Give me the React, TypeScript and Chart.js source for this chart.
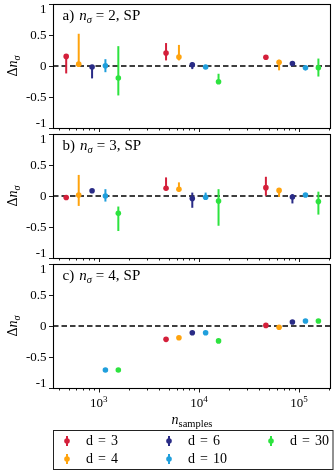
import React, { useEffect, useRef } from 'react';
import { Chart, registerables } from 'chart.js';
Chart.register(...registerables);

const SERIF = '"Liberation Serif", "Times New Roman", serif';

// ---- series metadata ----
const dLabels = ['d = 3', 'd = 4', 'd = 6', 'd = 10', 'd = 30'];
const dValues = ['3', '4', '6', '10', '30'];
const dColors = ['#d41f3a', '#ffa30d', '#292b86', '#209fdc', '#2de33f'];

// ---- x positions (n_samples) per series ----
const nD3 = [474, 4700, 46600];
const nD4 = [632, 6320, 63100];
const nD6 = [859, 8590, 85700];
const nD10 = [1167, 11670, 115700];
const nD30 = [1570, 15700, 155700];

// ---- panel a: n_sigma = 2 ----
const a3 = [0.155, 0.21, 0.14];
const a3Lo = [-0.12, 0.09, 0.13];
const a3Hi = [0.17, 0.37, 0.15];
const a4 = [0.03, 0.145, 0.06];
const a4Lo = [0.02, 0.09, -0.07];
const a4Hi = [0.52, 0.34, 0.1];
const a6 = [-0.015, 0.02, 0.04];
const a6Lo = [-0.2, -0.05, 0.02];
const a6Hi = [0.0, 0.06, 0.05];
const a10 = [0.005, -0.015, -0.03];
const a10Lo = [-0.1, -0.03, -0.04];
const a10Hi = [0.11, 0.0, -0.02];
const a30 = [-0.195, -0.255, -0.03];
const a30Lo = [-0.475, -0.29, -0.17];
const a30Hi = [0.32, -0.125, 0.12];

// ---- panel b: n_sigma = 3 ----
const b3 = [-0.025, 0.125, 0.135];
const b3Lo = [-0.03, 0.09, 0.005];
const b3Hi = [-0.02, 0.3, 0.31];
const b4 = [0.015, 0.11, 0.09];
const b4Lo = [-0.16, 0.07, -0.015];
const b4Hi = [0.34, 0.22, 0.12];
const b6 = [0.085, -0.04, -0.015];
const b6Lo = [0.08, -0.19, -0.12];
const b6Hi = [0.09, 0.055, 0.03];
const b10 = [0.0, -0.02, 0.015];
const b10Lo = [-0.09, -0.05, 0.01];
const b10Hi = [0.11, 0.055, 0.02];
const b30 = [-0.28, -0.08, -0.09];
const b30Lo = [-0.565, -0.48, -0.3];
const b30Hi = [-0.17, 0.11, 0.07];

// ---- panel c: n_sigma = 4 (no error bars) ----
const c3 = [null, -0.215, 0.01];
const c4 = [null, -0.19, -0.02];
const c6 = [null, -0.11, 0.065];
const c10 = [-0.71, -0.11, 0.08];
const c30 = [-0.71, -0.24, 0.08];

// ---- axes ----
const xMin = 350;
const xMax = 208000;
const xDecades = [100, 1000, 10000, 100000];
const xMultipliers = [1, 2, 3, 4, 5, 6, 7, 8, 9];
const xDecadeExponents = ['2', '3', '4', '5'];
const yTicks = [-1, -0.5, 0, 0.5, 1];
const yTickLabels = ['-1', '-0.5', '0', '0.5', '1'];

const panelLetters = ['a)', 'b)', 'c)'];
const panelNSigma = ['2', '3', '4'];

const xsByD = [nD3, nD4, nD6, nD10, nD30];
const panelVals = [
  [a3, a4, a6, a10, a30],
  [b3, b4, b6, b10, b30],
  [c3, c4, c6, c10, c30],
];
const panelLo = [
  [a3Lo, a4Lo, a6Lo, a10Lo, a30Lo],
  [b3Lo, b4Lo, b6Lo, b10Lo, b30Lo],
  null,
];
const panelHi = [
  [a3Hi, a4Hi, a6Hi, a10Hi, a30Hi],
  [b3Hi, b4Hi, b6Hi, b10Hi, b30Hi],
  null,
];

type Part = { t: string; f: string; dy?: number; gap?: number };

function drawRich(ctx: CanvasRenderingContext2D, x: number, y: number, parts: Part[], align: 'left' | 'center' = 'left') {
  let w = 0;
  parts.forEach((p) => {
    ctx.font = p.f;
    w += ctx.measureText(p.t).width + (p.gap || 0);
  });
  let cx = align === 'center' ? x - w / 2 : x;
  ctx.textAlign = 'left';
  parts.forEach((p) => {
    ctx.font = p.f;
    ctx.fillText(p.t, cx, y + (p.dy || 0));
    cx += ctx.measureText(p.t).width + (p.gap || 0);
  });
}

const xTickValues: number[] = [];
xDecades.forEach((d) => xMultipliers.forEach((m) => {
  const v = d * m;
  if (v >= xMin && v <= xMax) xTickValues.push(v);
}));

function makePanelPlugin(pi: number, isLast: boolean) {
  return {
    id: 'panelDeco' + pi,
    beforeDatasetsDraw(chart: any) {
      const { ctx, chartArea: ca, scales } = chart;
      const x = scales.x;
      const y = scales.y;
      ctx.save();
      const y0 = y.getPixelForValue(0);
      ctx.strokeStyle = '#000';
      ctx.lineWidth = 1.3;
      ctx.setLineDash([5.5, 3]);
      ctx.beginPath();
      ctx.moveTo(ca.left, y0);
      ctx.lineTo(ca.right, y0);
      ctx.stroke();
      ctx.setLineDash([]);
      chart.data.datasets.forEach((ds: any) => {
        ctx.strokeStyle = ds.borderColor;
        ctx.lineWidth = 2;
        ds.data.forEach((p: any) => {
          if (p.lo == null || p.hi == null) return;
          const px = x.getPixelForValue(p.x);
          ctx.beginPath();
          ctx.moveTo(px, y.getPixelForValue(p.lo));
          ctx.lineTo(px, y.getPixelForValue(p.hi));
          ctx.stroke();
        });
      });
      ctx.restore();
    },
    afterDraw(chart: any) {
      const { ctx, chartArea: ca, scales } = chart;
      const x = scales.x;
      const y = scales.y;
      ctx.save();
      ctx.fillStyle = '#000';
      ctx.strokeStyle = '#000';
      ctx.lineWidth = 1.1;
      ctx.strokeRect(ca.left + 0.5, ca.top + 0.5, ca.right - ca.left - 1, ca.bottom - ca.top);
      ctx.lineWidth = 0.9;
      x.ticks.forEach((t: any) => {
        const px = Math.round(x.getPixelForValue(t.value)) + 0.5;
        const major = xDecades.indexOf(t.value) >= 0;
        ctx.beginPath();
        ctx.moveTo(px, ca.bottom);
        ctx.lineTo(px, ca.bottom + (major ? 4.5 : 2.5));
        ctx.stroke();
      });
      ctx.textAlign = 'right';
      ctx.textBaseline = 'middle';
      ctx.font = '13px ' + SERIF;
      yTicks.forEach((v, i) => {
        const py = Math.round(y.getPixelForValue(v)) + 0.5;
        ctx.beginPath();
        ctx.moveTo(ca.left - 4, py);
        ctx.lineTo(ca.left, py);
        ctx.stroke();
        let shift = 0;
        if (v === y.max) shift = 5.5;
        if (v === y.min) shift = -5;
        ctx.fillText(yTickLabels[i], ca.left - 6.5, py + shift);
      });
      ctx.textBaseline = 'alphabetic';
      drawRich(ctx, ca.left + 9.5, ca.top + 15.5, [
        { t: panelLetters[pi], f: '15px ' + SERIF, gap: 5 },
        { t: 'n', f: 'italic 15px ' + SERIF },
        { t: '\u03c3', f: 'italic 10.5px ' + SERIF, dy: 3, gap: 4 },
        { t: '=', f: '15px ' + SERIF, gap: 4 },
        { t: panelNSigma[pi] + ',', f: '15px ' + SERIF, gap: 4 },
        { t: 'SP', f: '15px ' + SERIF },
      ]);
      ctx.save();
      ctx.translate(17, (ca.top + ca.bottom) / 2);
      ctx.rotate(-Math.PI / 2);
      drawRich(ctx, 0, 0, [
        { t: '\u0394', f: '14px ' + SERIF },
        { t: 'n', f: 'italic 14px ' + SERIF },
        { t: '\u03c3', f: 'italic 10px ' + SERIF, dy: 3 },
      ], 'center');
      ctx.restore();

      if (isLast) {
        xDecades.forEach((d, i) => {
          if (d < xMin || d > xMax) return;
          const px = x.getPixelForValue(d);
          drawRich(ctx, px, ca.bottom + 19, [
            { t: '10', f: '13px ' + SERIF },
            { t: xDecadeExponents[i], f: '9px ' + SERIF, dy: -5.5 },
          ], 'center');
        });
        drawRich(ctx, (ca.left + ca.right) / 2, ca.bottom + 35.5, [
          { t: 'n', f: 'italic 14px ' + SERIF },
          { t: 'samples', f: '10.5px ' + SERIF, dy: 3 },
        ], 'center');
        const lx = ca.left + 0.5;
        const ly = ca.bottom + 42.5;
        ctx.lineWidth = 1;
        ctx.strokeStyle = '#222';
        ctx.strokeRect(lx, ly, ca.right - ca.left + 1.5, 39);
        dLabels.forEach((lab, i) => {
          const col = Math.floor(i / 2);
          const row = i % 2;
          const mx = ca.left + 14 + col * 102;
          const my = ly + 10.5 + row * 18;
          ctx.strokeStyle = dColors[i];
          ctx.fillStyle = dColors[i];
          ctx.lineWidth = 2;
          ctx.beginPath();
          ctx.moveTo(mx, my - 5);
          ctx.lineTo(mx, my + 5);
          ctx.stroke();
          ctx.beginPath();
          ctx.arc(mx, my, 2.8, 0, Math.PI * 2);
          ctx.fill();
          ctx.fillStyle = '#000';
          ctx.textBaseline = 'middle';
          drawRich(ctx, mx + 19, my, [
            { t: 'd', f: '14px ' + SERIF, gap: 5 },
            { t: '=', f: '14px ' + SERIF, gap: 5 },
            { t: dValues[i], f: '14px ' + SERIF },
          ]);
        });
      }
      ctx.restore();
    },
  };
}

function makeChart(canvas: HTMLCanvasElement, pi: number, xAxisH: number) {
  const isLast = pi === 2;
  const datasets = dLabels.map((lab, i) => {
    const vals = panelVals[pi][i];
    const lo = panelLo[pi] ? panelLo[pi]![i] : null;
    const hi = panelHi[pi] ? panelHi[pi]![i] : null;
    const data: any[] = [];
    xsByD[i].forEach((xv, j) => {
      if (vals[j] == null) return;
      data.push({ x: xv, y: vals[j], lo: lo ? lo[j] : null, hi: hi ? hi[j] : null });
    });
    return {
      label: lab,
      data,
      backgroundColor: dColors[i],
      borderColor: dColors[i],
      pointRadius: 2.8,
      pointHoverRadius: 2.8,
      pointBorderWidth: 0,
      showLine: false,
    };
  });
  return new Chart(canvas, {
    type: 'scatter',
    data: { datasets },
    options: {
      animation: false,
      responsive: false,
      maintainAspectRatio: false,
      events: [],
      layout: { padding: { top: 4, right: 5, left: 0, bottom: 0 } },
      plugins: { legend: { display: false }, tooltip: { enabled: false } },
      scales: {
        x: {
          type: 'logarithmic',
          min: xMin,
          max: xMax,
          offset: false,
          afterBuildTicks: (axis: any) => {
            axis.ticks = xTickValues.map((v) => ({ value: v }));
          },
          ticks: { display: false },
          grid: { display: false },
          border: { display: false },
          afterFit: (axis: any) => {
            axis.height = xAxisH;
          },
        },
        y: {
          type: 'linear',
          min: -1,
          max: 1,
          afterBuildTicks: (axis: any) => {
            axis.ticks = yTicks.map((v) => ({ value: v }));
          },
          ticks: { display: false },
          grid: { display: false },
          border: { display: false },
          afterFit: (axis: any) => {
            axis.width = 53;
          },
        },
      },
    } as any,
    plugins: [makePanelPlugin(pi, isLast) as any],
  });
}

export default function App() {
  const r0 = useRef<HTMLCanvasElement>(null);
  const r1 = useRef<HTMLCanvasElement>(null);
  const r2 = useRef<HTMLCanvasElement>(null);
  useEffect(() => {
    const charts = [
      makeChart(r0.current!, 0, 4),
      makeChart(r1.current!, 1, 4),
      makeChart(r2.current!, 2, 85),
    ];
    return () => charts.forEach((c) => c.destroy());
  }, []);
  const cs = (top: number, h: number): React.CSSProperties => ({
    position: 'absolute', left: 0, top, width: 336, height: h, display: 'block',
  });
  return (
    <div style={{ position: 'absolute', left: 0, top: 0, width: 336, height: 473, background: '#fff', overflow: 'hidden' }}>
      <canvas ref={r0} width={336} height={132} style={cs(0, 132)} />
      <canvas ref={r1} width={336} height={132} style={cs(130, 132)} />
      <canvas ref={r2} width={336} height={213} style={cs(260, 213)} />
    </div>
  );
}
